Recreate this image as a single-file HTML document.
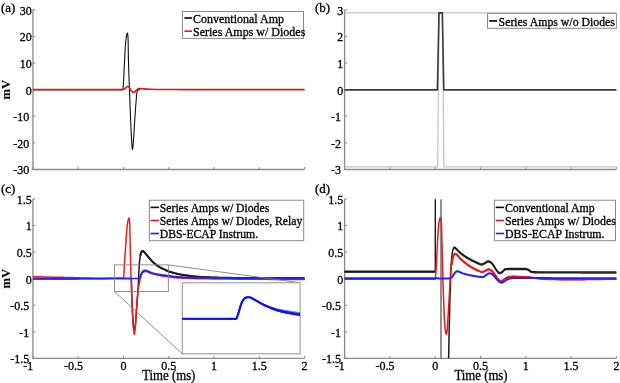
<!DOCTYPE html>
<html><head><meta charset="utf-8"><title>figure</title>
<style>html,body{margin:0;padding:0;background:#fff;overflow:hidden}svg{display:block;filter:blur(0.35px);font-family:"Liberation Serif",serif}text{stroke:#000;stroke-width:0.3px;paint-order:stroke}</style>
</head><body>
<svg width="620" height="383" viewBox="0 0 620 383" font-family="Liberation Serif" >
<rect width="620" height="383" fill="#fff"/>
<path d="M32.95,9.70 V169.50 H304.60" fill="none" stroke="#8a8a8a" stroke-width="1.3"/>
<path d="M32.95,169.50 v-2.5 M78.23,169.50 v-2.5 M123.50,169.50 v-2.5 M168.78,169.50 v-2.5 M214.05,169.50 v-2.5 M259.33,169.50 v-2.5 M304.60,169.50 v-2.5 M32.95,9.70 h2.5 M32.95,36.33 h2.5 M32.95,62.97 h2.5 M32.95,89.60 h2.5 M32.95,116.23 h2.5 M32.95,142.87 h2.5 M32.95,169.50 h2.5" fill="none" stroke="#8a8a8a" stroke-width="1"/>
<path d="M32.95,89.60 L122.60,89.60 L122.60,89.60 C122.72,89.00 123.07,88.93 123.30,86.00 C123.53,83.07 123.77,76.67 124.00,72.00 C124.23,67.33 124.43,62.83 124.70,58.00 C124.97,53.17 125.30,46.67 125.60,43.00 C125.90,39.33 126.17,37.63 126.50,36.00 C126.83,34.37 127.33,32.53 127.60,33.20 C127.87,33.87 127.97,35.87 128.10,40.00 C128.23,44.13 128.25,51.67 128.40,58.00 C128.55,64.33 128.82,72.73 129.00,78.00 C129.18,83.27 129.28,83.93 129.50,89.60 C129.72,95.27 130.00,104.43 130.30,112.00 C130.60,119.57 130.95,128.77 131.30,135.00 C131.65,141.23 132.03,148.57 132.40,149.40 C132.77,150.23 133.15,144.23 133.50,140.00 C133.85,135.77 134.12,129.83 134.50,124.00 C134.88,118.17 135.38,110.33 135.80,105.00 C136.22,99.67 136.55,94.53 137.00,92.00 C137.45,89.47 138.00,90.20 138.50,89.80 C139.00,89.40 139.75,89.63 140.00,89.60" fill="none" stroke="#111" stroke-width="1.1"/>
<path d="M32.95,89.6 L122.8,89.6 L122.80,89.60 C123.08,89.53 123.92,89.60 124.50,89.20 C125.08,88.80 125.73,87.65 126.30,87.20 C126.87,86.75 127.37,86.40 127.90,86.50 C128.43,86.60 128.95,87.08 129.50,87.80 C130.05,88.52 130.48,90.03 131.20,90.80 C131.92,91.57 133.00,92.43 133.80,92.40 C134.60,92.37 135.22,91.22 136.00,90.60 C136.78,89.98 137.50,89.02 138.50,88.70 C139.50,88.38 140.08,88.62 142.00,88.70 C143.92,88.78 146.17,89.07 150.00,89.20 C153.83,89.33 159.17,89.43 165.00,89.50 C170.83,89.57 181.67,89.58 185.00,89.60 L304.60,89.6" fill="none" stroke="#d41a1a" stroke-width="1.6"/>
<rect x="182.40" y="11.50" width="121.10" height="26.90" fill="#fff" stroke="#8a8a8a" stroke-width="1"/>
<path d="M184.40,18.00 H192.00" stroke="#000" stroke-width="1.6"/>
<text x="193.00" y="22.60" font-size="12.0" text-anchor="start" font-weight="normal" >Conventional Amp</text>
<path d="M184.40,31.20 H192.00" stroke="#e8141c" stroke-width="1.6"/>
<text x="193.00" y="35.80" font-size="12.0" text-anchor="start" font-weight="normal" >Series Amps w/ Diodes</text>
<path d="M344.60,9.70 V169.50 H616.40" fill="none" stroke="#8a8a8a" stroke-width="1.3"/>
<path d="M344.60,169.50 v-2.5 M389.90,169.50 v-2.5 M435.20,169.50 v-2.5 M480.50,169.50 v-2.5 M525.80,169.50 v-2.5 M571.10,169.50 v-2.5 M616.40,169.50 v-2.5 M344.60,9.70 h2.5 M344.60,36.33 h2.5 M344.60,62.97 h2.5 M344.60,89.60 h2.5 M344.60,116.23 h2.5 M344.60,142.87 h2.5 M344.60,169.50 h2.5" fill="none" stroke="#8a8a8a" stroke-width="1"/>
<path d="M344.60,12.9 H616.40 M344.60,166.8 H437.7 L439.0,12.9 M442.5,12.9 L443.9,166.8 H616.40" fill="none" stroke="#c2c2c2" stroke-width="1.25"/>
<path d="M344.60,89.9 H437.4 L439.0,12.9 H442.3 L443.8,89.9 H616.40" fill="none" stroke="#3a3a3a" stroke-width="1.6" stroke-linejoin="round"/>
<rect x="487.50" y="13.40" width="128.90" height="14.90" fill="#fff" stroke="#8a8a8a" stroke-width="1"/>
<path d="M489.20,20.90 H497.20" stroke="#000" stroke-width="1.6"/>
<text x="498.60" y="25.50" font-size="11.8" text-anchor="start" font-weight="normal" >Series Amps w/o Diodes</text>
<path d="M32.95,198.90 V358.35 H304.60" fill="none" stroke="#8a8a8a" stroke-width="1.3"/>
<path d="M32.95,358.35 v-2.5 M78.23,358.35 v-2.5 M123.50,358.35 v-2.5 M168.78,358.35 v-2.5 M214.05,358.35 v-2.5 M259.33,358.35 v-2.5 M304.60,358.35 v-2.5 M32.95,198.90 h2.5 M32.95,225.48 h2.5 M32.95,252.05 h2.5 M32.95,278.62 h2.5 M32.95,305.20 h2.5 M32.95,331.78 h2.5 M32.95,358.35 h2.5" fill="none" stroke="#8a8a8a" stroke-width="1"/>
<path d="M32.95,279.10 L36.30,279.09 L39.59,279.08 L42.86,279.07 L46.15,279.06 L49.47,279.05 L52.87,279.03 L56.37,279.02 L60.00,279.00 L64.72,278.97 L69.77,278.94 L75.03,278.90 L80.37,278.86 L85.66,278.82 L90.78,278.78 L95.60,278.74 L100.00,278.70 L102.89,278.67 L105.69,278.64 L108.40,278.61 L110.99,278.58 L113.46,278.56 L115.79,278.53 L117.98,278.51 L120.00,278.50 L121.20,278.49 L122.36,278.49 L123.47,278.48 L124.52,278.48 L125.50,278.48 L126.41,278.48 L127.25,278.49 L128.00,278.50 L128.38,278.50 L128.74,278.49 L129.07,278.47 L129.39,278.46 L129.68,278.45 L129.95,278.47 L130.19,278.52 L130.40,278.60 L130.53,278.67 L130.63,278.74 L130.73,278.83 L130.81,278.92 L130.89,279.03 L130.96,279.16 L131.03,279.31 L131.10,279.50 L131.34,280.57 L131.49,282.16 L131.59,284.15 L131.64,286.43 L131.67,288.87 L131.69,291.36 L131.73,293.77 L131.80,296.00 L131.89,298.19 L131.99,300.42 L132.09,302.67 L132.18,304.92 L132.28,307.16 L132.39,309.34 L132.49,311.47 L132.60,313.50 L132.69,315.14 L132.78,316.77 L132.86,318.37 L132.95,319.93 L133.05,321.44 L133.15,322.88 L133.27,324.24 L133.40,325.50 L133.50,326.37 L133.60,327.28 L133.71,328.20 L133.83,329.07 L133.94,329.84 L134.06,330.45 L134.18,330.85 L134.30,331.00 L134.41,330.89 L134.52,330.56 L134.64,330.08 L134.76,329.46 L134.88,328.75 L134.99,328.00 L135.10,327.23 L135.20,326.50 L135.35,325.24 L135.49,323.84 L135.62,322.31 L135.74,320.69 L135.85,319.02 L135.96,317.32 L136.08,315.64 L136.20,314.00 L136.34,312.29 L136.48,310.57 L136.62,308.83 L136.76,307.08 L136.90,305.32 L137.03,303.55 L137.17,301.78 L137.30,300.00 L137.43,298.14 L137.57,296.26 L137.70,294.37 L137.83,292.47 L137.96,290.57 L138.08,288.69 L138.19,286.83 L138.30,285.00 L138.39,283.32 L138.47,281.64 L138.54,279.97 L138.61,278.31 L138.68,276.69 L138.75,275.08 L138.82,273.52 L138.90,272.00 L138.97,270.73 L139.04,269.48 L139.10,268.25 L139.17,267.04 L139.24,265.86 L139.32,264.71 L139.41,263.59 L139.50,262.50 L139.58,261.61 L139.67,260.74 L139.75,259.89 L139.85,259.05 L139.95,258.24 L140.05,257.46 L140.17,256.71 L140.30,256.00 L140.40,255.47 L140.51,254.95 L140.62,254.44 L140.73,253.95 L140.85,253.49 L140.99,253.05 L141.14,252.65 L141.30,252.30 L141.42,252.08 L141.54,251.86 L141.67,251.65 L141.81,251.46 L141.95,251.29 L142.09,251.16 L142.24,251.06 L142.40,251.00 L142.56,250.99 L142.73,251.03 L142.90,251.10 L143.08,251.19 L143.27,251.31 L143.45,251.44 L143.63,251.57 L143.80,251.70 L144.00,251.86 L144.19,252.03 L144.38,252.22 L144.56,252.43 L144.75,252.64 L144.95,252.88 L145.16,253.13 L145.40,253.40 L145.87,253.95 L146.40,254.58 L146.98,255.29 L147.59,256.04 L148.22,256.80 L148.85,257.57 L149.48,258.31 L150.10,259.00 L150.67,259.63 L151.25,260.25 L151.83,260.86 L152.41,261.46 L153.00,262.05 L153.59,262.62 L154.19,263.17 L154.80,263.70 L155.37,264.17 L155.95,264.62 L156.53,265.05 L157.12,265.47 L157.71,265.87 L158.30,266.26 L158.90,266.63 L159.50,267.00 L160.08,267.34 L160.66,267.66 L161.25,267.97 L161.83,268.27 L162.42,268.56 L163.02,268.84 L163.61,269.12 L164.20,269.40 L164.78,269.67 L165.34,269.93 L165.91,270.18 L166.48,270.43 L167.06,270.68 L167.65,270.92 L168.26,271.16 L168.90,271.40 L169.71,271.69 L170.54,271.98 L171.41,272.27 L172.29,272.56 L173.20,272.84 L174.12,273.11 L175.06,273.36 L176.00,273.60 L177.07,273.85 L178.18,274.07 L179.31,274.28 L180.46,274.48 L181.61,274.67 L182.76,274.85 L183.89,275.03 L185.00,275.20 L186.01,275.36 L187.00,275.51 L187.98,275.66 L188.95,275.80 L189.92,275.93 L190.92,276.06 L191.94,276.18 L193.00,276.30 L194.28,276.43 L195.58,276.54 L196.90,276.65 L198.26,276.75 L199.65,276.84 L201.06,276.93 L202.51,277.02 L204.00,277.10 L205.82,277.20 L207.67,277.28 L209.56,277.37 L211.50,277.44 L213.50,277.51 L215.58,277.58 L217.74,277.64 L220.00,277.70 L223.24,277.77 L226.63,277.84 L230.17,277.89 L233.86,277.94 L237.69,277.98 L241.65,278.02 L245.76,278.06 L250.00,278.10 L256.05,278.15 L262.51,278.19 L269.29,278.23 L276.29,278.27 L283.41,278.30 L290.57,278.33 L297.66,278.36 L304.60,278.40" fill="none" stroke="#1a1a1a" stroke-width="1.5" stroke-linejoin="round"/>
<path d="M140.30,256.00 L140.42,255.52 L140.53,255.03 L140.64,254.52 L140.75,254.02 L140.87,253.53 L141.00,253.08 L141.14,252.66 L141.30,252.30 L141.42,252.08 L141.54,251.86 L141.67,251.65 L141.81,251.46 L141.95,251.29 L142.09,251.16 L142.24,251.06 L142.40,251.00 L142.56,250.99 L142.73,251.03 L142.90,251.10 L143.08,251.19 L143.27,251.31 L143.45,251.44 L143.63,251.57 L143.80,251.70 L144.00,251.86 L144.19,252.03 L144.38,252.22 L144.56,252.43 L144.75,252.64 L144.95,252.88 L145.16,253.13 L145.40,253.40 L145.87,253.95 L146.40,254.58 L146.98,255.29 L147.59,256.04 L148.22,256.80 L148.85,257.57 L149.48,258.31 L150.10,259.00 L150.67,259.63 L151.25,260.25 L151.83,260.86 L152.41,261.46 L153.00,262.05 L153.59,262.62 L154.19,263.17 L154.80,263.70 L155.37,264.17 L155.95,264.62 L156.53,265.05 L157.12,265.47 L157.71,265.87 L158.30,266.26 L158.90,266.63 L159.50,267.00 L160.08,267.34 L160.66,267.66 L161.25,267.97 L161.83,268.27 L162.42,268.56 L163.02,268.84 L163.61,269.12 L164.20,269.40 L164.78,269.67 L165.34,269.93 L165.91,270.18 L166.48,270.43 L167.06,270.68 L167.65,270.92 L168.26,271.16 L168.90,271.40 L169.71,271.69 L170.54,271.98 L171.41,272.27 L172.29,272.56 L173.20,272.84 L174.12,273.11 L175.06,273.36 L176.00,273.60 L177.07,273.85 L178.18,274.07 L179.31,274.28 L180.46,274.48 L181.61,274.67 L182.76,274.85 L183.89,275.03 L185.00,275.20 L186.01,275.36 L187.00,275.51 L187.98,275.66 L188.95,275.80 L189.92,275.93 L190.92,276.06 L191.94,276.18 L193.00,276.30 L194.28,276.43 L195.58,276.54 L196.90,276.65 L198.26,276.75 L199.65,276.84 L201.06,276.93 L202.51,277.02 L204.00,277.10 L205.82,277.20 L207.67,277.28 L209.56,277.37 L211.50,277.44 L213.50,277.51 L215.58,277.58 L217.74,277.64 L220.00,277.70 L223.24,277.77 L226.63,277.84 L230.17,277.89 L233.86,277.94 L237.69,277.98 L241.65,278.02 L245.76,278.06 L250.00,278.10 L256.05,278.15 L262.51,278.19 L269.29,278.23 L276.29,278.27 L283.41,278.30 L290.57,278.33 L297.66,278.36 L304.60,278.40" fill="none" stroke="#1a1a1a" stroke-width="2.1" stroke-linejoin="round"/>
<path d="M32.95,276.60 L35.07,276.66 L37.18,276.73 L39.28,276.79 L41.39,276.86 L43.51,276.92 L45.64,276.98 L47.80,277.04 L50.00,277.10 L52.42,277.16 L54.89,277.21 L57.38,277.25 L59.90,277.30 L62.43,277.34 L64.96,277.39 L67.49,277.44 L70.00,277.50 L72.50,277.57 L75.00,277.65 L77.50,277.73 L80.00,277.81 L82.50,277.90 L85.00,277.97 L87.50,278.04 L90.00,278.10 L92.54,278.15 L95.13,278.18 L97.74,278.21 L100.34,278.24 L102.90,278.26 L105.39,278.28 L107.76,278.29 L110.00,278.30 L111.66,278.31 L113.35,278.32 L115.02,278.33 L116.62,278.33 L118.12,278.34 L119.46,278.33 L120.60,278.32 L121.50,278.30 L121.76,278.30 L121.99,278.30 L122.20,278.31 L122.39,278.32 L122.56,278.32 L122.72,278.30 L122.86,278.27 L123.00,278.20 L123.11,278.12 L123.20,278.04 L123.28,277.94 L123.35,277.83 L123.42,277.70 L123.48,277.55 L123.54,277.39 L123.60,277.20 L123.75,276.51 L123.86,275.58 L123.94,274.48 L124.00,273.24 L124.04,271.92 L124.08,270.58 L124.13,269.25 L124.20,268.00 L124.28,266.68 L124.37,265.34 L124.45,263.99 L124.54,262.62 L124.63,261.24 L124.72,259.84 L124.81,258.43 L124.90,257.00 L125.01,255.43 L125.11,253.84 L125.22,252.23 L125.34,250.60 L125.45,248.96 L125.57,247.31 L125.68,245.66 L125.80,244.00 L125.92,242.25 L126.04,240.46 L126.15,238.64 L126.27,236.83 L126.39,235.03 L126.52,233.28 L126.65,231.60 L126.80,230.00 L126.92,228.77 L127.04,227.55 L127.16,226.35 L127.28,225.19 L127.41,224.08 L127.56,223.04 L127.72,222.07 L127.90,221.20 L128.03,220.67 L128.16,220.13 L128.31,219.59 L128.46,219.08 L128.61,218.65 L128.75,218.30 L128.89,218.07 L129.00,218.00 L129.11,218.11 L129.20,218.39 L129.28,218.82 L129.36,219.37 L129.42,219.99 L129.48,220.65 L129.54,221.34 L129.60,222.00 L129.69,223.25 L129.76,224.66 L129.82,226.20 L129.86,227.86 L129.89,229.59 L129.93,231.38 L129.96,233.19 L130.00,235.00 L130.05,237.32 L130.11,239.78 L130.15,242.34 L130.20,244.95 L130.25,247.57 L130.30,250.15 L130.35,252.64 L130.40,255.00 L130.45,256.89 L130.50,258.75 L130.55,260.57 L130.60,262.35 L130.65,264.09 L130.70,265.78 L130.75,267.41 L130.80,269.00 L130.84,270.20 L130.87,271.31 L130.91,272.36 L130.94,273.40 L130.98,274.45 L131.02,275.55 L131.06,276.72 L131.10,278.00 L131.17,280.13 L131.25,282.47 L131.33,284.97 L131.42,287.57 L131.51,290.23 L131.61,292.89 L131.70,295.50 L131.80,298.00 L131.89,300.32 L131.99,302.64 L132.08,304.96 L132.18,307.26 L132.28,309.53 L132.38,311.75 L132.49,313.91 L132.60,316.00 L132.69,317.71 L132.78,319.40 L132.86,321.07 L132.95,322.70 L133.05,324.27 L133.15,325.77 L133.27,327.19 L133.40,328.50 L133.50,329.40 L133.61,330.35 L133.72,331.30 L133.83,332.20 L133.95,333.00 L134.07,333.63 L134.19,334.05 L134.30,334.20 L134.42,334.04 L134.53,333.59 L134.65,332.90 L134.76,332.05 L134.88,331.07 L134.99,330.03 L135.10,328.99 L135.20,328.00 L135.35,326.43 L135.48,324.69 L135.61,322.81 L135.73,320.84 L135.85,318.83 L135.96,316.83 L136.08,314.87 L136.20,313.00 L136.31,311.32 L136.42,309.66 L136.52,308.01 L136.63,306.37 L136.73,304.75 L136.85,303.15 L136.97,301.57 L137.10,300.00 L137.23,298.56 L137.37,297.12 L137.51,295.68 L137.65,294.26 L137.81,292.87 L137.96,291.52 L138.13,290.23 L138.30,289.00 L138.44,288.10 L138.59,287.24 L138.74,286.40 L138.89,285.60 L139.05,284.81 L139.20,284.03 L139.35,283.27 L139.50,282.50 L139.63,281.81 L139.75,281.13 L139.87,280.45 L139.99,279.78 L140.11,279.12 L140.23,278.49 L140.36,277.88 L140.50,277.30 L140.61,276.86 L140.72,276.44 L140.83,276.03 L140.94,275.64 L141.06,275.25 L141.19,274.89 L141.34,274.54 L141.50,274.20 L141.65,273.92 L141.81,273.65 L141.98,273.39 L142.16,273.14 L142.35,272.90 L142.55,272.68 L142.77,272.48 L143.00,272.30 L143.27,272.13 L143.56,271.98 L143.88,271.85 L144.21,271.74 L144.54,271.65 L144.87,271.58 L145.19,271.53 L145.50,271.50 L145.76,271.50 L146.01,271.51 L146.26,271.55 L146.50,271.60 L146.75,271.66 L146.99,271.74 L147.24,271.82 L147.50,271.90 L147.80,272.01 L148.09,272.14 L148.38,272.29 L148.67,272.44 L148.99,272.61 L149.32,272.77 L149.69,272.94 L150.10,273.10 L150.99,273.40 L152.03,273.72 L153.18,274.06 L154.42,274.39 L155.70,274.73 L157.00,275.04 L158.28,275.34 L159.50,275.60 L160.68,275.83 L161.87,276.04 L163.07,276.23 L164.27,276.40 L165.47,276.56 L166.64,276.71 L167.79,276.86 L168.90,277.00 L169.82,277.12 L170.69,277.23 L171.53,277.34 L172.36,277.44 L173.20,277.54 L174.08,277.63 L175.00,277.71 L176.00,277.80 L177.49,277.91 L179.04,278.02 L180.67,278.11 L182.37,278.20 L184.16,278.28 L186.02,278.36 L187.96,278.43 L190.00,278.50 L193.18,278.59 L196.60,278.67 L200.23,278.74 L204.02,278.80 L207.94,278.86 L211.93,278.91 L215.97,278.95 L220.00,279.00 L224.71,279.05 L229.54,279.10 L234.48,279.13 L239.50,279.17 L244.59,279.20 L249.71,279.23 L254.86,279.27 L260.00,279.30 L265.46,279.34 L270.98,279.38 L276.55,279.41 L282.15,279.45 L287.77,279.49 L293.39,279.53 L299.01,279.56 L304.60,279.60" fill="none" stroke="#f01c24" stroke-width="1.5" stroke-linejoin="round"/>
<path d="M32.95,278.3 L100,278.4 L138.6,278.5" fill="none" stroke="#2020ff" stroke-width="1.5"/>
<path d="M138.50,278.55 L138.65,278.55 L138.81,278.55 L138.97,278.56 L139.13,278.57 L139.29,278.57 L139.43,278.55 L139.57,278.52 L139.70,278.45 L139.84,278.33 L139.95,278.17 L140.06,277.98 L140.15,277.77 L140.24,277.54 L140.32,277.29 L140.41,277.05 L140.50,276.80 L140.63,276.45 L140.75,276.06 L140.86,275.65 L140.98,275.22 L141.10,274.79 L141.22,274.37 L141.35,273.97 L141.50,273.60 L141.63,273.30 L141.77,273.01 L141.91,272.72 L142.05,272.45 L142.20,272.18 L142.36,271.93 L142.53,271.71 L142.70,271.50 L142.85,271.35 L143.00,271.21 L143.16,271.08 L143.33,270.96 L143.49,270.85 L143.66,270.76 L143.83,270.67 L144.00,270.60 L144.15,270.54 L144.29,270.50 L144.44,270.46 L144.58,270.43 L144.73,270.41 L144.88,270.40 L145.04,270.40 L145.20,270.40 L145.41,270.42 L145.62,270.46 L145.83,270.51 L146.05,270.57 L146.28,270.65 L146.51,270.73 L146.75,270.81 L147.00,270.90 L147.35,271.03 L147.71,271.18 L148.09,271.34 L148.48,271.51 L148.87,271.69 L149.28,271.87 L149.69,272.04 L150.10,272.20 L150.56,272.37 L151.02,272.54 L151.49,272.71 L151.97,272.88 L152.46,273.04 L152.96,273.20 L153.47,273.35 L154.00,273.50 L154.63,273.66 L155.27,273.81 L155.92,273.95 L156.59,274.08 L157.28,274.21 L158.00,274.34 L158.73,274.47 L159.50,274.60 L160.56,274.77 L161.70,274.94 L162.90,275.11 L164.12,275.28 L165.36,275.44 L166.58,275.60 L167.77,275.75 L168.90,275.90 L169.82,276.02 L170.69,276.15 L171.53,276.27 L172.36,276.38 L173.20,276.49 L174.08,276.60 L175.00,276.70 L176.00,276.80 L177.49,276.93 L179.04,277.05 L180.67,277.16 L182.37,277.26 L184.15,277.35 L186.02,277.44 L187.96,277.52 L190.00,277.60 L193.18,277.69 L196.60,277.77 L200.23,277.82 L204.02,277.86 L207.94,277.89 L211.93,277.92 L215.97,277.96 L220.00,278.00 L224.71,278.05 L229.55,278.11 L234.48,278.16 L239.50,278.22 L244.59,278.27 L249.71,278.32 L254.86,278.36 L260.00,278.40 L265.46,278.44 L270.98,278.47 L276.55,278.49 L282.15,278.51 L287.77,278.54 L293.39,278.56 L299.01,278.58 L304.60,278.60" fill="none" stroke="#2020ff" stroke-width="1.9" stroke-linejoin="round"/>
<path d="M114.5,264.9 H168.4 V291.5 H114.5 Z M168.4,264.9 L299.8,282.7 M114.5,291.5 L182.3,353.8" fill="none" stroke="#808080" stroke-width="0.9"/>
<rect x="182.3" y="282.8" width="117.8" height="71.0" fill="#fff" stroke="#909090" stroke-width="1"/>
<path d="M182.30,318.80 L187.13,318.80 L192.14,318.80 L197.21,318.80 L202.25,318.80 L207.16,318.80 L211.82,318.80 L216.13,318.80 L220.00,318.80 L222.23,318.80 L224.44,318.81 L226.56,318.82 L228.56,318.83 L230.40,318.83 L232.03,318.83 L233.41,318.82 L234.50,318.80 L234.80,318.80 L235.06,318.82 L235.29,318.84 L235.50,318.85 L235.68,318.86 L235.86,318.84 L236.03,318.79 L236.20,318.70 L236.40,318.53 L236.58,318.30 L236.73,318.02 L236.87,317.71 L237.00,317.37 L237.13,317.02 L237.26,316.66 L237.40,316.30 L237.58,315.83 L237.76,315.33 L237.94,314.80 L238.11,314.26 L238.28,313.70 L238.46,313.14 L238.63,312.57 L238.80,312.00 L238.99,311.37 L239.17,310.72 L239.36,310.06 L239.54,309.39 L239.73,308.73 L239.91,308.07 L240.11,307.42 L240.30,306.80 L240.48,306.25 L240.65,305.70 L240.83,305.15 L241.01,304.62 L241.20,304.09 L241.39,303.58 L241.59,303.08 L241.80,302.60 L241.99,302.19 L242.18,301.78 L242.38,301.38 L242.59,300.99 L242.80,300.62 L243.02,300.26 L243.25,299.92 L243.50,299.60 L243.73,299.33 L243.97,299.06 L244.22,298.81 L244.48,298.57 L244.74,298.35 L245.02,298.15 L245.31,297.96 L245.60,297.80 L245.91,297.66 L246.23,297.54 L246.57,297.44 L246.91,297.35 L247.26,297.29 L247.61,297.24 L247.96,297.21 L248.30,297.20 L248.63,297.21 L248.97,297.24 L249.30,297.28 L249.63,297.35 L249.96,297.43 L250.30,297.52 L250.64,297.63 L251.00,297.75 L251.47,297.93 L251.95,298.15 L252.45,298.39 L252.96,298.65 L253.47,298.93 L253.98,299.21 L254.49,299.49 L255.00,299.75 L255.51,300.01 L256.02,300.27 L256.53,300.53 L257.04,300.79 L257.55,301.06 L258.06,301.32 L258.58,301.58 L259.10,301.85 L259.64,302.12 L260.18,302.40 L260.73,302.67 L261.27,302.95 L261.82,303.23 L262.38,303.50 L262.94,303.77 L263.50,304.02 L264.08,304.28 L264.64,304.53 L265.21,304.77 L265.78,305.01 L266.37,305.25 L266.98,305.49 L267.62,305.73 L268.30,305.98 L269.29,306.35 L270.36,306.73 L271.49,307.12 L272.65,307.52 L273.84,307.91 L275.04,308.28 L276.23,308.62 L277.40,308.93 L278.55,309.20 L279.72,309.44 L280.91,309.66 L282.09,309.86 L283.26,310.04 L284.41,310.22 L285.53,310.39 L286.60,310.57 L287.45,310.71 L288.27,310.85 L289.07,310.98 L289.85,311.11 L290.63,311.23 L291.41,311.35 L292.19,311.48 L293.00,311.60 L293.86,311.73 L294.73,311.86 L295.60,311.98 L296.48,312.10 L297.36,312.23 L298.24,312.35 L299.12,312.48 L300.00,312.60" fill="none" stroke="#1010f0" stroke-width="1.0" opacity="0.6" stroke-linejoin="round"/>
<path d="M182.30,318.80 L187.13,318.80 L192.14,318.80 L197.21,318.80 L202.25,318.80 L207.16,318.80 L211.82,318.80 L216.13,318.80 L220.00,318.80 L222.23,318.80 L224.44,318.81 L226.56,318.82 L228.56,318.83 L230.40,318.83 L232.03,318.83 L233.41,318.82 L234.50,318.80 L234.80,318.80 L235.06,318.82 L235.29,318.84 L235.50,318.85 L235.68,318.86 L235.86,318.84 L236.03,318.79 L236.20,318.70 L236.40,318.53 L236.58,318.30 L236.73,318.02 L236.87,317.71 L237.00,317.37 L237.13,317.02 L237.26,316.66 L237.40,316.30 L237.58,315.83 L237.76,315.33 L237.94,314.80 L238.11,314.26 L238.28,313.70 L238.46,313.14 L238.63,312.57 L238.80,312.00 L238.99,311.37 L239.17,310.72 L239.36,310.06 L239.54,309.39 L239.73,308.73 L239.91,308.07 L240.11,307.42 L240.30,306.80 L240.48,306.25 L240.65,305.70 L240.83,305.15 L241.01,304.62 L241.20,304.09 L241.39,303.58 L241.59,303.08 L241.80,302.60 L241.99,302.19 L242.18,301.78 L242.38,301.38 L242.59,300.99 L242.80,300.62 L243.02,300.26 L243.25,299.92 L243.50,299.60 L243.73,299.33 L243.97,299.06 L244.22,298.81 L244.48,298.57 L244.74,298.35 L245.02,298.15 L245.31,297.96 L245.60,297.80 L245.91,297.66 L246.23,297.54 L246.57,297.44 L246.91,297.35 L247.26,297.29 L247.61,297.24 L247.96,297.21 L248.30,297.20 L248.63,297.21 L248.97,297.24 L249.30,297.29 L249.63,297.36 L249.96,297.44 L250.30,297.54 L250.64,297.65 L251.00,297.78 L251.47,297.96 L251.96,298.19 L252.45,298.45 L252.96,298.73 L253.47,299.02 L253.98,299.31 L254.49,299.60 L255.00,299.88 L255.51,300.15 L256.02,300.42 L256.53,300.69 L257.04,300.97 L257.55,301.24 L258.06,301.52 L258.58,301.80 L259.10,302.07 L259.64,302.36 L260.18,302.65 L260.73,302.94 L261.27,303.23 L261.82,303.52 L262.38,303.81 L262.94,304.09 L263.50,304.36 L264.08,304.63 L264.64,304.90 L265.21,305.15 L265.78,305.41 L266.37,305.66 L266.98,305.91 L267.62,306.17 L268.30,306.44 L269.29,306.83 L270.36,307.24 L271.48,307.66 L272.65,308.08 L273.84,308.50 L275.04,308.90 L276.23,309.28 L277.40,309.62 L278.55,309.91 L279.72,310.18 L280.91,310.43 L282.09,310.66 L283.26,310.88 L284.41,311.09 L285.53,311.29 L286.60,311.48 L287.45,311.64 L288.27,311.80 L289.07,311.94 L289.85,312.08 L290.63,312.21 L291.41,312.34 L292.19,312.47 L293.00,312.60 L293.86,312.73 L294.73,312.86 L295.60,312.99 L296.48,313.11 L297.36,313.23 L298.24,313.35 L299.12,313.48 L300.00,313.60" fill="none" stroke="#1010f0" stroke-width="1.2" opacity="0.8" stroke-linejoin="round"/>
<path d="M182.30,318.80 L187.13,318.80 L192.14,318.80 L197.21,318.80 L202.25,318.80 L207.16,318.80 L211.82,318.80 L216.13,318.80 L220.00,318.80 L222.23,318.80 L224.44,318.81 L226.56,318.82 L228.56,318.83 L230.40,318.83 L232.03,318.83 L233.41,318.82 L234.50,318.80 L234.80,318.80 L235.06,318.82 L235.29,318.84 L235.50,318.85 L235.68,318.86 L235.86,318.84 L236.03,318.79 L236.20,318.70 L236.40,318.53 L236.58,318.30 L236.73,318.02 L236.87,317.71 L237.00,317.37 L237.13,317.02 L237.26,316.66 L237.40,316.30 L237.58,315.83 L237.76,315.33 L237.94,314.80 L238.11,314.26 L238.28,313.70 L238.46,313.14 L238.63,312.57 L238.80,312.00 L238.99,311.37 L239.17,310.72 L239.36,310.06 L239.54,309.39 L239.73,308.73 L239.91,308.07 L240.11,307.42 L240.30,306.80 L240.48,306.25 L240.65,305.70 L240.83,305.15 L241.01,304.62 L241.20,304.09 L241.39,303.58 L241.59,303.08 L241.80,302.60 L241.99,302.19 L242.18,301.78 L242.38,301.38 L242.59,300.99 L242.80,300.62 L243.02,300.26 L243.25,299.92 L243.50,299.60 L243.73,299.33 L243.97,299.06 L244.22,298.81 L244.48,298.57 L244.74,298.35 L245.02,298.15 L245.31,297.96 L245.60,297.80 L245.91,297.66 L246.23,297.54 L246.57,297.43 L246.91,297.35 L247.26,297.28 L247.61,297.24 L247.96,297.21 L248.30,297.20 L248.64,297.21 L248.97,297.24 L249.30,297.30 L249.63,297.37 L249.96,297.46 L250.30,297.56 L250.65,297.68 L251.00,297.81 L251.47,298.01 L251.96,298.26 L252.46,298.53 L252.96,298.83 L253.47,299.14 L253.98,299.46 L254.49,299.77 L255.00,300.06 L255.51,300.35 L256.02,300.64 L256.53,300.94 L257.04,301.23 L257.55,301.53 L258.06,301.82 L258.58,302.12 L259.10,302.41 L259.64,302.72 L260.18,303.03 L260.73,303.34 L261.27,303.66 L261.82,303.97 L262.38,304.27 L262.94,304.57 L263.50,304.87 L264.08,305.16 L264.64,305.45 L265.21,305.72 L265.78,306.00 L266.37,306.27 L266.98,306.55 L267.62,306.83 L268.30,307.13 L269.29,307.55 L270.36,308.00 L271.48,308.46 L272.65,308.93 L273.84,309.40 L275.04,309.84 L276.23,310.26 L277.40,310.64 L278.55,310.98 L279.72,311.30 L280.90,311.60 L282.09,311.88 L283.26,312.14 L284.41,312.39 L285.53,312.63 L286.60,312.86 L287.45,313.04 L288.27,313.21 L289.07,313.38 L289.85,313.53 L290.63,313.68 L291.40,313.82 L292.19,313.96 L293.00,314.10 L293.86,314.24 L294.73,314.37 L295.60,314.50 L296.48,314.62 L297.36,314.74 L298.24,314.86 L299.12,314.98 L300.00,315.10" fill="none" stroke="#1010f0" stroke-width="1.6" opacity="1" stroke-linejoin="round"/>
<path d="M182.30,318.80 L187.13,318.80 L192.14,318.80 L197.21,318.80 L202.25,318.80 L207.16,318.80 L211.82,318.80 L216.13,318.80 L220.00,318.80 L222.23,318.80 L224.44,318.81 L226.56,318.82 L228.56,318.83 L230.40,318.83 L232.03,318.83 L233.41,318.82 L234.50,318.80 L234.80,318.80 L235.06,318.82 L235.29,318.84 L235.50,318.85 L235.68,318.86 L235.86,318.84 L236.03,318.79 L236.20,318.70 L236.40,318.53 L236.58,318.30 L236.73,318.02 L236.87,317.71 L237.00,317.37 L237.13,317.02 L237.26,316.66 L237.40,316.30 L237.58,315.83 L237.76,315.33 L237.94,314.80 L238.11,314.26 L238.28,313.70 L238.46,313.14 L238.63,312.57 L238.80,312.00 L238.99,311.37 L239.17,310.72 L239.36,310.06 L239.54,309.39 L239.73,308.73 L239.91,308.07 L240.11,307.42 L240.30,306.80 L240.48,306.25 L240.65,305.70 L240.83,305.15 L241.01,304.62 L241.20,304.09 L241.39,303.58 L241.59,303.08 L241.80,302.60 L241.99,302.19 L242.18,301.78 L242.38,301.38 L242.59,300.99 L242.80,300.62 L243.02,300.26 L243.25,299.92 L243.50,299.60 L243.73,299.33 L243.97,299.06 L244.22,298.81 L244.48,298.57 L244.74,298.35 L245.02,298.15 L245.31,297.96 L245.60,297.80 L245.91,297.66 L246.23,297.54 L246.57,297.43 L246.91,297.35 L247.26,297.28 L247.61,297.24 L247.96,297.21 L248.30,297.20 L248.64,297.21 L248.97,297.24 L249.30,297.29 L249.63,297.36 L249.96,297.45 L250.30,297.55 L250.65,297.67 L251.00,297.80 L251.47,298.00 L251.96,298.24 L252.45,298.50 L252.96,298.80 L253.47,299.10 L253.98,299.41 L254.49,299.71 L255.00,300.00 L255.51,300.28 L256.02,300.57 L256.53,300.86 L257.04,301.14 L257.55,301.43 L258.06,301.72 L258.58,302.01 L259.10,302.30 L259.64,302.60 L260.18,302.90 L260.73,303.21 L261.27,303.51 L261.82,303.82 L262.38,304.12 L262.94,304.41 L263.50,304.70 L264.08,304.99 L264.64,305.26 L265.21,305.53 L265.78,305.80 L266.37,306.07 L266.98,306.34 L267.62,306.61 L268.30,306.90 L269.29,307.31 L270.36,307.75 L271.48,308.20 L272.65,308.65 L273.84,309.10 L275.04,309.53 L276.23,309.93 L277.40,310.30 L278.55,310.63 L279.72,310.93 L280.90,311.21 L282.09,311.47 L283.26,311.72 L284.41,311.95 L285.53,312.18 L286.60,312.40 L287.45,312.58 L288.27,312.74 L289.07,312.90 L289.85,313.05 L290.63,313.19 L291.40,313.33 L292.19,313.46 L293.00,313.60 L293.86,313.74 L294.73,313.87 L295.60,313.99 L296.48,314.12 L297.36,314.24 L298.24,314.36 L299.12,314.48 L300.00,314.60" fill="none" stroke="#1010f0" stroke-width="2.1" opacity="1" stroke-linejoin="round"/>
<rect x="149.40" y="200.20" width="154.30" height="40.50" fill="#fff" stroke="#8a8a8a" stroke-width="1"/>
<path d="M150.60,207.40 H158.90" stroke="#000" stroke-width="1.6"/>
<text x="159.80" y="212.00" font-size="11.7" text-anchor="start" font-weight="normal" >Series Amps w/ Diodes</text>
<path d="M150.60,220.50 H158.90" stroke="#e8141c" stroke-width="1.6"/>
<text x="159.80" y="225.10" font-size="11.7" text-anchor="start" font-weight="normal" >Series Amps w/ Diodes, Relay</text>
<path d="M150.60,233.50 H158.90" stroke="#1515f5" stroke-width="1.6"/>
<text x="159.80" y="238.10" font-size="11.7" text-anchor="start" font-weight="normal" >DBS-ECAP Instrum.</text>
<path d="M344.60,198.90 V358.35 H616.40" fill="none" stroke="#8a8a8a" stroke-width="1.3"/>
<path d="M344.60,358.35 v-2.5 M389.90,358.35 v-2.5 M435.20,358.35 v-2.5 M480.50,358.35 v-2.5 M525.80,358.35 v-2.5 M571.10,358.35 v-2.5 M616.40,358.35 v-2.5 M344.60,198.90 h2.5 M344.60,225.48 h2.5 M344.60,252.05 h2.5 M344.60,278.62 h2.5 M344.60,305.20 h2.5 M344.60,331.78 h2.5 M344.60,358.35 h2.5" fill="none" stroke="#8a8a8a" stroke-width="1"/>
<path d="M344.60,271.7 H435.3 V199.2" fill="none" stroke="#1a1a1a" stroke-width="1.4"/>
<path d="M441.0,199.2 V358.35" fill="none" stroke="#555" stroke-width="1.3"/>
<path d="M344.60,271.7 H434.9" fill="none" stroke="#1a1a1a" stroke-width="2.3"/>
<path d="M448.60,358.35 L448.70,353.52 L448.80,348.65 L448.90,343.76 L448.99,338.88 L449.09,334.04 L449.19,329.26 L449.29,324.57 L449.40,320.00 L449.50,316.03 L449.59,312.10 L449.69,308.21 L449.79,304.39 L449.89,300.64 L449.99,296.99 L450.10,293.43 L450.20,290.00 L450.28,287.28 L450.36,284.63 L450.44,282.05 L450.51,279.52 L450.60,277.06 L450.69,274.65 L450.79,272.30 L450.90,270.00 L451.00,268.09 L451.11,266.20 L451.22,264.33 L451.33,262.51 L451.46,260.75 L451.59,259.06 L451.74,257.48 L451.90,256.00 L452.01,255.04 L452.12,254.12 L452.24,253.22 L452.36,252.37 L452.49,251.57 L452.63,250.82 L452.80,250.13 L453.00,249.50 L453.14,249.12 L453.28,248.74 L453.42,248.37 L453.58,248.03 L453.74,247.73 L453.91,247.48 L454.10,247.30 L454.30,247.20 L454.49,247.19 L454.68,247.24 L454.89,247.34 L455.11,247.48 L455.33,247.65 L455.55,247.83 L455.78,248.02 L456.00,248.20 L456.30,248.46 L456.60,248.75 L456.90,249.07 L457.20,249.41 L457.51,249.76 L457.83,250.11 L458.16,250.46 L458.50,250.80 L458.90,251.17 L459.32,251.55 L459.74,251.93 L460.18,252.31 L460.63,252.69 L461.08,253.07 L461.54,253.44 L462.00,253.80 L462.48,254.16 L462.96,254.52 L463.45,254.88 L463.94,255.23 L464.44,255.57 L464.95,255.92 L465.47,256.26 L466.00,256.60 L466.59,256.97 L467.20,257.35 L467.82,257.72 L468.45,258.09 L469.09,258.45 L469.73,258.81 L470.37,259.16 L471.00,259.50 L471.62,259.82 L472.24,260.14 L472.86,260.45 L473.48,260.75 L474.10,261.04 L474.73,261.33 L475.36,261.62 L476.00,261.90 L476.66,262.20 L477.34,262.54 L478.03,262.88 L478.72,263.21 L479.40,263.51 L480.06,263.75 L480.70,263.92 L481.30,264.00 L481.74,263.99 L482.16,263.93 L482.56,263.83 L482.95,263.69 L483.34,263.54 L483.73,263.36 L484.11,263.18 L484.50,263.00 L484.92,262.77 L485.34,262.49 L485.75,262.18 L486.17,261.86 L486.58,261.56 L486.99,261.30 L487.40,261.11 L487.80,261.00 L488.14,260.98 L488.49,261.00 L488.83,261.06 L489.17,261.16 L489.51,261.28 L489.85,261.44 L490.18,261.61 L490.50,261.80 L490.90,262.08 L491.29,262.41 L491.67,262.78 L492.05,263.19 L492.42,263.62 L492.78,264.08 L493.14,264.54 L493.50,265.00 L493.89,265.55 L494.27,266.15 L494.63,266.78 L494.99,267.42 L495.35,268.07 L495.72,268.69 L496.10,269.27 L496.50,269.80 L496.85,270.24 L497.21,270.69 L497.58,271.13 L497.96,271.56 L498.34,271.93 L498.72,272.24 L499.11,272.47 L499.50,272.60 L499.84,272.62 L500.19,272.56 L500.55,272.44 L500.91,272.27 L501.26,272.07 L501.62,271.85 L501.96,271.62 L502.30,271.40 L502.65,271.14 L502.98,270.83 L503.29,270.50 L503.61,270.15 L503.93,269.81 L504.26,269.49 L504.61,269.21 L505.00,269.00 L505.43,268.84 L505.88,268.74 L506.34,268.68 L506.83,268.65 L507.33,268.63 L507.86,268.63 L508.41,268.62 L509.00,268.60 L509.96,268.56 L511.01,268.53 L512.13,268.50 L513.31,268.49 L514.51,268.49 L515.70,268.49 L516.88,268.49 L518.00,268.50 L519.05,268.50 L520.13,268.49 L521.22,268.48 L522.29,268.48 L523.33,268.50 L524.31,268.53 L525.20,268.60 L526.00,268.70 L526.43,268.78 L526.82,268.86 L527.18,268.96 L527.52,269.06 L527.85,269.18 L528.16,269.30 L528.48,269.45 L528.80,269.60 L529.11,269.78 L529.40,270.00 L529.68,270.23 L529.95,270.47 L530.23,270.71 L530.53,270.94 L530.85,271.14 L531.20,271.30 L531.68,271.45 L532.18,271.56 L532.70,271.64 L533.25,271.69 L533.84,271.72 L534.50,271.74 L535.21,271.76 L536.00,271.80 L538.10,271.88 L540.65,271.92 L543.54,271.94 L546.69,271.94 L550.00,271.92 L553.38,271.91 L556.75,271.90 L560.00,271.90 L563.60,271.91 L567.31,271.93 L571.09,271.94 L574.91,271.96 L578.74,271.97 L582.56,271.98 L586.32,271.99 L590.00,272.00 L593.38,272.00 L596.72,272.01 L600.02,272.01 L603.31,272.01 L606.57,272.00 L609.84,272.00 L613.11,272.00 L616.40,272.00" fill="none" stroke="#1a1a1a" stroke-width="1.5" stroke-linejoin="round"/>
<path d="M454.30,248.10 L454.51,248.22 L454.72,248.33 L454.93,248.44 L455.14,248.55 L455.35,248.67 L455.57,248.79 L455.78,248.94 L456.00,249.10 L456.30,249.36 L456.60,249.65 L456.90,249.97 L457.20,250.31 L457.51,250.66 L457.83,251.01 L458.16,251.36 L458.50,251.70 L458.90,252.07 L459.32,252.45 L459.74,252.83 L460.18,253.21 L460.63,253.59 L461.08,253.97 L461.54,254.34 L462.00,254.70 L462.48,255.06 L462.96,255.42 L463.45,255.78 L463.94,256.13 L464.44,256.47 L464.95,256.82 L465.47,257.16 L466.00,257.50 L466.59,257.87 L467.20,258.25 L467.82,258.62 L468.45,258.99 L469.09,259.35 L469.73,259.71 L470.37,260.06 L471.00,260.40 L471.62,260.72 L472.24,261.04 L472.86,261.35 L473.48,261.65 L474.10,261.94 L474.73,262.23 L475.36,262.52 L476.00,262.80 L476.66,263.10 L477.34,263.44 L478.03,263.78 L478.72,264.11 L479.40,264.41 L480.06,264.65 L480.70,264.82 L481.30,264.90 L481.74,264.89 L482.16,264.83 L482.56,264.73 L482.95,264.59 L483.34,264.44 L483.73,264.26 L484.11,264.08 L484.50,263.90 L484.92,263.67 L485.34,263.39 L485.75,263.08 L486.17,262.76 L486.58,262.46 L486.99,262.20 L487.40,262.01 L487.80,261.90 L488.14,261.88 L488.49,261.90 L488.83,261.96 L489.17,262.06 L489.51,262.18 L489.85,262.34 L490.18,262.51 L490.50,262.70 L490.90,262.98 L491.29,263.31 L491.67,263.68 L492.05,264.09 L492.42,264.52 L492.78,264.98 L493.14,265.44 L493.50,265.90 L493.89,266.45 L494.27,267.05 L494.63,267.68 L494.99,268.32 L495.35,268.97 L495.72,269.59 L496.10,270.17 L496.50,270.70 L496.85,271.14 L497.21,271.59 L497.58,272.03 L497.96,272.46 L498.34,272.83 L498.72,273.14 L499.11,273.37 L499.50,273.50 L499.84,273.52 L500.19,273.46 L500.55,273.34 L500.91,273.17 L501.26,272.97 L501.62,272.75 L501.96,272.52 L502.30,272.30 L502.65,272.04 L502.98,271.73 L503.29,271.40 L503.61,271.05 L503.93,270.71 L504.26,270.39 L504.61,270.11 L505.00,269.90 L505.43,269.74 L505.88,269.64 L506.34,269.58 L506.83,269.55 L507.33,269.53 L507.86,269.53 L508.41,269.52 L509.00,269.50 L509.96,269.46 L511.01,269.43 L512.13,269.40 L513.31,269.39 L514.51,269.39 L515.70,269.39 L516.88,269.39 L518.00,269.40 L519.05,269.40 L520.13,269.39 L521.22,269.38 L522.29,269.38 L523.33,269.40 L524.31,269.43 L525.20,269.50 L526.00,269.60 L526.43,269.68 L526.82,269.76 L527.18,269.86 L527.52,269.96 L527.85,270.08 L528.16,270.20 L528.48,270.35 L528.80,270.50 L529.11,270.68 L529.40,270.90 L529.68,271.13 L529.95,271.37 L530.23,271.61 L530.53,271.84 L530.85,272.04 L531.20,272.20 L531.68,272.35 L532.18,272.46 L532.70,272.54 L533.25,272.59 L533.84,272.62 L534.50,272.64 L535.21,272.66 L536.00,272.70 L538.10,272.78 L540.65,272.82 L543.54,272.84 L546.69,272.84 L550.00,272.82 L553.38,272.81 L556.75,272.80 L560.00,272.80 L563.60,272.81 L567.31,272.83 L571.09,272.84 L574.91,272.86 L578.74,272.87 L582.56,272.88 L586.32,272.89 L590.00,272.90 L593.38,272.90 L596.72,272.91 L600.02,272.91 L603.31,272.91 L606.57,272.90 L609.84,272.90 L613.11,272.90 L616.40,272.90" fill="none" stroke="#222" stroke-width="1.5" stroke-linejoin="round"/>
<path d="M344.60,279.00 L400.00,279.00 L435.20,279.10 L435.20,279.10 L435.29,278.23 L435.38,277.40 L435.46,276.58 L435.55,275.75 L435.64,274.90 L435.73,274.00 L435.82,273.04 L435.90,272.00 L436.03,270.14 L436.16,268.08 L436.29,265.85 L436.41,263.52 L436.53,261.11 L436.65,258.69 L436.78,256.31 L436.90,254.00 L437.02,251.73 L437.14,249.44 L437.26,247.14 L437.38,244.84 L437.50,242.56 L437.63,240.32 L437.76,238.13 L437.90,236.00 L438.02,234.17 L438.13,232.33 L438.24,230.50 L438.36,228.70 L438.48,226.98 L438.63,225.35 L438.80,223.85 L439.00,222.50 L439.14,221.70 L439.30,220.87 L439.46,220.05 L439.64,219.28 L439.81,218.61 L439.98,218.08 L440.15,217.73 L440.30,217.60 L440.42,217.68 L440.55,217.91 L440.67,218.26 L440.78,218.71 L440.90,219.23 L441.01,219.80 L441.11,220.40 L441.20,221.00 L441.37,222.48 L441.48,224.28 L441.57,226.32 L441.62,228.54 L441.66,230.89 L441.70,233.29 L441.74,235.68 L441.80,238.00 L441.88,240.61 L441.96,243.30 L442.03,246.04 L442.11,248.82 L442.18,251.63 L442.25,254.43 L442.33,257.23 L442.40,260.00 L442.47,262.75 L442.55,265.49 L442.62,268.23 L442.69,270.97 L442.76,273.71 L442.84,276.47 L442.92,279.23 L443.00,282.00 L443.09,284.87 L443.18,287.77 L443.28,290.68 L443.38,293.61 L443.48,296.51 L443.58,299.39 L443.69,302.23 L443.80,305.00 L443.90,307.52 L444.00,310.07 L444.11,312.61 L444.21,315.12 L444.33,317.55 L444.44,319.86 L444.57,322.03 L444.70,324.00 L444.79,325.20 L444.87,326.36 L444.95,327.48 L445.03,328.53 L445.13,329.52 L445.23,330.44 L445.36,331.27 L445.50,332.00 L445.59,332.38 L445.69,332.76 L445.79,333.13 L445.89,333.47 L446.00,333.77 L446.10,334.00 L446.21,334.15 L446.30,334.20 L446.40,334.13 L446.49,333.95 L446.58,333.66 L446.67,333.30 L446.76,332.89 L446.84,332.44 L446.92,331.97 L447.00,331.50 L447.14,330.46 L447.26,329.22 L447.36,327.83 L447.45,326.32 L447.54,324.75 L447.62,323.14 L447.70,321.55 L447.80,320.00 L447.91,318.32 L448.03,316.60 L448.14,314.85 L448.26,313.09 L448.37,311.31 L448.48,309.53 L448.59,307.76 L448.70,306.00 L448.80,304.25 L448.91,302.51 L449.00,300.77 L449.10,299.03 L449.20,297.29 L449.30,295.53 L449.40,293.77 L449.50,292.00 L449.61,290.14 L449.71,288.25 L449.82,286.34 L449.92,284.43 L450.03,282.52 L450.15,280.64 L450.27,278.80 L450.40,277.00 L450.52,275.42 L450.64,273.85 L450.76,272.29 L450.88,270.76 L451.02,269.26 L451.16,267.79 L451.32,266.37 L451.50,265.00 L451.65,263.89 L451.80,262.79 L451.95,261.71 L452.12,260.65 L452.30,259.64 L452.50,258.69 L452.73,257.80 L453.00,257.00 L453.20,256.48 L453.40,255.96 L453.62,255.45 L453.85,254.98 L454.09,254.56 L454.35,254.21 L454.62,253.95 L454.90,253.80 L455.14,253.77 L455.39,253.80 L455.65,253.89 L455.92,254.03 L456.19,254.20 L456.46,254.39 L456.73,254.59 L457.00,254.80 L457.37,255.13 L457.72,255.52 L458.07,255.96 L458.43,256.44 L458.79,256.94 L459.17,257.44 L459.57,257.93 L460.00,258.40 L460.55,258.93 L461.14,259.46 L461.75,259.99 L462.40,260.52 L463.05,261.05 L463.71,261.57 L464.36,262.09 L465.00,262.60 L465.62,263.09 L466.23,263.59 L466.83,264.08 L467.45,264.56 L468.07,265.04 L468.69,265.51 L469.34,265.96 L470.00,266.40 L470.71,266.84 L471.44,267.27 L472.19,267.69 L472.94,268.10 L473.71,268.49 L474.47,268.88 L475.24,269.25 L476.00,269.60 L476.74,269.95 L477.50,270.33 L478.27,270.70 L479.03,271.06 L479.78,271.38 L480.52,271.64 L481.23,271.82 L481.90,271.90 L482.39,271.88 L482.87,271.81 L483.33,271.69 L483.78,271.53 L484.22,271.35 L484.65,271.16 L485.08,270.97 L485.50,270.80 L485.89,270.62 L486.27,270.41 L486.65,270.19 L487.02,269.96 L487.39,269.75 L487.76,269.57 L488.13,269.45 L488.50,269.40 L488.88,269.41 L489.25,269.48 L489.64,269.58 L490.02,269.72 L490.40,269.90 L490.77,270.11 L491.14,270.34 L491.50,270.60 L491.96,271.00 L492.41,271.47 L492.85,272.01 L493.29,272.59 L493.71,273.20 L494.14,273.82 L494.57,274.42 L495.00,275.00 L495.44,275.59 L495.87,276.21 L496.30,276.85 L496.73,277.49 L497.16,278.10 L497.60,278.67 L498.05,279.17 L498.50,279.60 L498.84,279.88 L499.18,280.14 L499.53,280.38 L499.88,280.59 L500.23,280.76 L500.59,280.90 L500.94,280.98 L501.30,281.00 L501.69,280.94 L502.09,280.79 L502.49,280.58 L502.90,280.32 L503.30,280.03 L503.70,279.73 L504.10,279.45 L504.50,279.20 L504.88,278.97 L505.25,278.73 L505.61,278.48 L505.98,278.23 L506.35,278.00 L506.72,277.77 L507.10,277.57 L507.50,277.40 L507.90,277.25 L508.30,277.13 L508.70,277.03 L509.12,276.94 L509.54,276.87 L510.00,276.81 L510.48,276.75 L511.00,276.70 L511.92,276.64 L512.94,276.61 L514.05,276.61 L515.21,276.63 L516.41,276.66 L517.62,276.71 L518.82,276.76 L520.00,276.80 L521.23,276.85 L522.46,276.90 L523.71,276.96 L524.97,277.03 L526.23,277.11 L527.49,277.20 L528.75,277.29 L530.00,277.40 L531.24,277.53 L532.45,277.67 L533.66,277.83 L534.87,278.00 L536.10,278.17 L537.36,278.33 L538.65,278.47 L540.00,278.60 L541.70,278.73 L543.44,278.85 L545.23,278.95 L547.07,279.04 L548.96,279.11 L550.91,279.18 L552.92,279.24 L555.00,279.30 L557.84,279.36 L560.87,279.40 L564.03,279.42 L567.28,279.44 L570.55,279.44 L573.80,279.43 L576.96,279.42 L580.00,279.40 L582.62,279.38 L585.20,279.35 L587.75,279.31 L590.26,279.26 L592.74,279.21 L595.19,279.17 L597.61,279.13 L600.00,279.10 L602.13,279.08 L604.21,279.06 L606.27,279.05 L608.30,279.04 L610.32,279.03 L612.34,279.02 L614.36,279.01 L616.40,279.00" fill="none" stroke="#f0141c" stroke-width="1.5" stroke-linejoin="round"/>
<path d="M451.50,265.00 L451.68,263.97 L451.84,262.91 L451.99,261.83 L452.15,260.76 L452.32,259.71 L452.52,258.73 L452.74,257.81 L453.00,257.00 L453.20,256.48 L453.40,255.96 L453.62,255.45 L453.85,254.98 L454.09,254.56 L454.35,254.21 L454.62,253.95 L454.90,253.80 L455.14,253.77 L455.39,253.80 L455.65,253.89 L455.92,254.03 L456.19,254.20 L456.46,254.39 L456.73,254.59 L457.00,254.80 L457.37,255.13 L457.72,255.52 L458.07,255.96 L458.43,256.44 L458.79,256.94 L459.17,257.44 L459.57,257.93 L460.00,258.40 L460.55,258.93 L461.14,259.46 L461.75,259.99 L462.40,260.52 L463.05,261.05 L463.71,261.57 L464.36,262.09 L465.00,262.60 L465.62,263.09 L466.23,263.59 L466.83,264.08 L467.45,264.56 L468.07,265.04 L468.69,265.51 L469.34,265.96 L470.00,266.40 L470.71,266.84 L471.44,267.27 L472.19,267.69 L472.94,268.10 L473.71,268.49 L474.47,268.88 L475.24,269.25 L476.00,269.60 L476.74,269.95 L477.50,270.33 L478.27,270.70 L479.03,271.06 L479.78,271.38 L480.52,271.64 L481.23,271.82 L481.90,271.90 L482.39,271.88 L482.87,271.81 L483.33,271.69 L483.78,271.53 L484.22,271.35 L484.65,271.16 L485.08,270.97 L485.50,270.80 L485.89,270.62 L486.27,270.41 L486.65,270.19 L487.02,269.96 L487.39,269.75 L487.76,269.57 L488.13,269.45 L488.50,269.40 L488.88,269.41 L489.25,269.48 L489.64,269.58 L490.02,269.72 L490.40,269.90 L490.77,270.11 L491.14,270.34 L491.50,270.60 L491.96,271.00 L492.41,271.47 L492.85,272.01 L493.29,272.59 L493.71,273.20 L494.14,273.82 L494.57,274.42 L495.00,275.00 L495.44,275.59 L495.87,276.21 L496.30,276.85 L496.73,277.49 L497.16,278.10 L497.60,278.67 L498.05,279.17 L498.50,279.60 L498.84,279.88 L499.18,280.14 L499.53,280.38 L499.88,280.59 L500.23,280.76 L500.59,280.90 L500.94,280.98 L501.30,281.00 L501.69,280.94 L502.09,280.79 L502.49,280.58 L502.90,280.32 L503.30,280.03 L503.70,279.73 L504.10,279.45 L504.50,279.20 L504.88,278.97 L505.25,278.73 L505.61,278.48 L505.98,278.23 L506.35,278.00 L506.72,277.77 L507.10,277.57 L507.50,277.40 L507.90,277.25 L508.30,277.13 L508.70,277.03 L509.12,276.94 L509.54,276.87 L510.00,276.81 L510.48,276.75 L511.00,276.70 L511.92,276.64 L512.94,276.61 L514.05,276.61 L515.21,276.63 L516.41,276.66 L517.62,276.71 L518.82,276.76 L520.00,276.80 L521.23,276.85 L522.46,276.90 L523.71,276.96 L524.97,277.03 L526.23,277.11 L527.49,277.20 L528.75,277.29 L530.00,277.40 L531.24,277.53 L532.45,277.67 L533.66,277.83 L534.87,278.00 L536.10,278.17 L537.36,278.33 L538.65,278.47 L540.00,278.60 L541.70,278.73 L543.44,278.85 L545.23,278.95 L547.07,279.04 L548.96,279.11 L550.91,279.18 L552.92,279.24 L555.00,279.30 L557.84,279.36 L560.87,279.40 L564.03,279.42 L567.28,279.44 L570.55,279.44 L573.80,279.43 L576.96,279.42 L580.00,279.40 L582.62,279.38 L585.20,279.35 L587.75,279.31 L590.26,279.26 L592.74,279.21 L595.19,279.17 L597.61,279.13 L600.00,279.10 L602.13,279.08 L604.21,279.06 L606.27,279.05 L608.30,279.04 L610.32,279.03 L612.34,279.02 L614.36,279.01 L616.40,279.00" fill="none" stroke="#f0141c" stroke-width="2.1" stroke-linejoin="round"/>
<path d="M344.60,279.00 L400.00,279.00 L435.20,279.10" fill="none" stroke="#f0141c" stroke-width="1.9"/>
<path d="M344.60,278.30 L355.69,278.30 L367.36,278.30 L379.28,278.29 L391.07,278.29 L402.39,278.29 L412.89,278.29 L422.21,278.29 L430.00,278.30 L433.25,278.32 L436.37,278.35 L439.31,278.38 L442.02,278.42 L444.44,278.44 L446.53,278.44 L448.24,278.42 L449.50,278.35 L449.75,278.33 L449.97,278.31 L450.15,278.30 L450.31,278.28 L450.46,278.26 L450.60,278.22 L450.74,278.17 L450.90,278.10 L451.09,277.99 L451.27,277.87 L451.45,277.72 L451.62,277.56 L451.79,277.39 L451.96,277.20 L452.13,277.00 L452.30,276.80 L452.52,276.51 L452.73,276.17 L452.94,275.81 L453.15,275.44 L453.35,275.06 L453.56,274.69 L453.78,274.33 L454.00,274.00 L454.20,273.72 L454.41,273.44 L454.61,273.16 L454.82,272.89 L455.03,272.64 L455.25,272.40 L455.47,272.19 L455.70,272.00 L455.89,271.86 L456.08,271.74 L456.28,271.63 L456.47,271.53 L456.67,271.44 L456.88,271.38 L457.09,271.33 L457.30,271.30 L457.53,271.30 L457.77,271.32 L458.01,271.37 L458.25,271.43 L458.50,271.52 L458.76,271.61 L459.02,271.70 L459.30,271.80 L459.71,271.95 L460.14,272.13 L460.58,272.34 L461.04,272.56 L461.52,272.78 L462.00,273.00 L462.50,273.21 L463.00,273.40 L463.58,273.60 L464.18,273.79 L464.79,273.97 L465.42,274.15 L466.05,274.32 L466.69,274.48 L467.34,274.64 L468.00,274.80 L468.72,274.97 L469.45,275.13 L470.18,275.29 L470.93,275.44 L471.69,275.58 L472.45,275.73 L473.22,275.86 L474.00,276.00 L474.87,276.15 L475.79,276.31 L476.74,276.46 L477.68,276.61 L478.61,276.75 L479.48,276.86 L480.29,276.95 L481.00,277.00 L481.37,277.02 L481.72,277.04 L482.04,277.06 L482.34,277.07 L482.63,277.06 L482.92,277.03 L483.21,276.98 L483.50,276.90 L483.82,276.77 L484.13,276.59 L484.44,276.38 L484.74,276.15 L485.05,275.91 L485.36,275.66 L485.67,275.42 L486.00,275.20 L486.38,274.94 L486.77,274.66 L487.17,274.36 L487.58,274.07 L487.99,273.80 L488.40,273.57 L488.80,273.40 L489.20,273.30 L489.53,273.28 L489.86,273.29 L490.20,273.35 L490.52,273.43 L490.85,273.54 L491.17,273.68 L491.49,273.83 L491.80,274.00 L492.16,274.23 L492.50,274.50 L492.84,274.81 L493.17,275.15 L493.50,275.51 L493.83,275.87 L494.16,276.24 L494.50,276.60 L494.87,277.00 L495.25,277.43 L495.62,277.87 L495.99,278.32 L496.37,278.76 L496.75,279.20 L497.12,279.61 L497.50,280.00 L497.84,280.33 L498.18,280.67 L498.52,281.01 L498.86,281.33 L499.20,281.63 L499.54,281.89 L499.87,282.12 L500.20,282.30 L500.43,282.40 L500.65,282.48 L500.88,282.55 L501.10,282.60 L501.32,282.62 L501.54,282.64 L501.77,282.63 L502.00,282.60 L502.30,282.53 L502.60,282.42 L502.91,282.27 L503.22,282.09 L503.54,281.90 L503.86,281.70 L504.18,281.50 L504.50,281.30 L504.86,281.07 L505.23,280.82 L505.59,280.55 L505.96,280.27 L506.33,280.00 L506.71,279.74 L507.10,279.51 L507.50,279.30 L507.90,279.12 L508.30,278.96 L508.70,278.82 L509.11,278.70 L509.54,278.58 L509.99,278.48 L510.48,278.39 L511.00,278.30 L511.89,278.19 L512.84,278.11 L513.86,278.06 L514.95,278.04 L516.11,278.02 L517.33,278.02 L518.63,278.01 L520.00,278.00 L522.50,277.98 L525.27,277.97 L528.27,277.98 L531.46,278.00 L534.77,278.03 L538.16,278.06 L541.59,278.08 L545.00,278.10 L549.09,278.11 L553.32,278.13 L557.66,278.14 L562.09,278.15 L566.57,278.16 L571.06,278.18 L575.55,278.19 L580.00,278.20 L584.52,278.21 L589.05,278.23 L593.60,278.24 L598.16,278.25 L602.72,278.26 L607.28,278.28 L611.85,278.29 L616.40,278.30" fill="none" stroke="#2020ff" stroke-width="2.0" stroke-linejoin="round"/>
<rect x="494.40" y="200.20" width="121.10" height="40.50" fill="#fff" stroke="#8a8a8a" stroke-width="1"/>
<path d="M495.70,207.40 H503.90" stroke="#000" stroke-width="1.6"/>
<text x="504.90" y="212.00" font-size="11.85" text-anchor="start" font-weight="normal" >Conventional Amp</text>
<path d="M495.70,220.50 H503.90" stroke="#e8141c" stroke-width="1.6"/>
<text x="504.90" y="225.10" font-size="11.85" text-anchor="start" font-weight="normal" >Series Amps w/ Diodes</text>
<path d="M495.70,233.50 H503.90" stroke="#1515f5" stroke-width="1.6"/>
<text x="504.90" y="238.10" font-size="11.85" text-anchor="start" font-weight="normal" >DBS-ECAP Instrum.</text>
<text x="1.00" y="11.70" font-size="13" text-anchor="start" font-weight="normal" >(a)</text>
<text x="315.00" y="11.70" font-size="13" text-anchor="start" font-weight="normal" >(b)</text>
<text x="1.00" y="192.80" font-size="13" text-anchor="start" font-weight="normal" >(c)</text>
<text x="315.00" y="192.80" font-size="13" text-anchor="start" font-weight="normal" >(d)</text>
<text x="31.65" y="14.60" font-size="12" text-anchor="end" font-weight="normal" >30</text>
<text x="31.65" y="41.23" font-size="12" text-anchor="end" font-weight="normal" >20</text>
<text x="31.65" y="67.87" font-size="12" text-anchor="end" font-weight="normal" >10</text>
<text x="31.65" y="94.50" font-size="12" text-anchor="end" font-weight="normal" >0</text>
<text x="29.25" y="121.13" font-size="12" text-anchor="end" font-weight="normal" >-10</text>
<text x="29.25" y="147.77" font-size="12" text-anchor="end" font-weight="normal" >-20</text>
<text x="29.25" y="174.40" font-size="12" text-anchor="end" font-weight="normal" >-30</text>
<text x="343.30" y="14.60" font-size="12" text-anchor="end" font-weight="normal" >3</text>
<text x="343.30" y="41.23" font-size="12" text-anchor="end" font-weight="normal" >2</text>
<text x="343.30" y="67.87" font-size="12" text-anchor="end" font-weight="normal" >1</text>
<text x="343.30" y="94.50" font-size="12" text-anchor="end" font-weight="normal" >0</text>
<text x="340.90" y="121.13" font-size="12" text-anchor="end" font-weight="normal" >-1</text>
<text x="340.90" y="147.77" font-size="12" text-anchor="end" font-weight="normal" >-2</text>
<text x="340.90" y="174.40" font-size="12" text-anchor="end" font-weight="normal" >-3</text>
<text x="31.65" y="203.80" font-size="12" text-anchor="end" font-weight="normal" >1.5</text>
<text x="31.65" y="230.38" font-size="12" text-anchor="end" font-weight="normal" >1</text>
<text x="31.65" y="256.95" font-size="12" text-anchor="end" font-weight="normal" >0.5</text>
<text x="31.65" y="283.52" font-size="12" text-anchor="end" font-weight="normal" >0</text>
<text x="29.25" y="310.10" font-size="12" text-anchor="end" font-weight="normal" >-0.5</text>
<text x="29.25" y="336.68" font-size="12" text-anchor="end" font-weight="normal" >-1</text>
<text x="29.25" y="363.25" font-size="12" text-anchor="end" font-weight="normal" >-1.5</text>
<text x="343.30" y="203.80" font-size="12" text-anchor="end" font-weight="normal" >1.5</text>
<text x="343.30" y="230.38" font-size="12" text-anchor="end" font-weight="normal" >1</text>
<text x="343.30" y="256.95" font-size="12" text-anchor="end" font-weight="normal" >0.5</text>
<text x="343.30" y="283.52" font-size="12" text-anchor="end" font-weight="normal" >0</text>
<text x="340.90" y="310.10" font-size="12" text-anchor="end" font-weight="normal" >-0.5</text>
<text x="340.90" y="336.68" font-size="12" text-anchor="end" font-weight="normal" >-1</text>
<text x="340.90" y="363.25" font-size="12" text-anchor="end" font-weight="normal" >-1.5</text>
<text x="28.15" y="369.90" font-size="12" text-anchor="middle" font-weight="normal" >-1</text>
<text x="73.43" y="369.90" font-size="12" text-anchor="middle" font-weight="normal" >-0.5</text>
<text x="123.50" y="369.90" font-size="12" text-anchor="middle" font-weight="normal" >0</text>
<text x="168.78" y="369.90" font-size="12" text-anchor="middle" font-weight="normal" >0.5</text>
<text x="214.05" y="369.90" font-size="12" text-anchor="middle" font-weight="normal" >1</text>
<text x="259.33" y="369.90" font-size="12" text-anchor="middle" font-weight="normal" >1.5</text>
<text x="304.60" y="369.90" font-size="12" text-anchor="middle" font-weight="normal" >2</text>
<text x="339.80" y="369.90" font-size="12" text-anchor="middle" font-weight="normal" >-1</text>
<text x="385.10" y="369.90" font-size="12" text-anchor="middle" font-weight="normal" >-0.5</text>
<text x="435.20" y="369.90" font-size="12" text-anchor="middle" font-weight="normal" >0</text>
<text x="480.50" y="369.90" font-size="12" text-anchor="middle" font-weight="normal" >0.5</text>
<text x="525.80" y="369.90" font-size="12" text-anchor="middle" font-weight="normal" >1</text>
<text x="571.10" y="369.90" font-size="12" text-anchor="middle" font-weight="normal" >1.5</text>
<text x="616.40" y="369.90" font-size="12" text-anchor="middle" font-weight="normal" >2</text>
<text x="142.20" y="379.60" font-size="13.6" text-anchor="start" font-weight="normal" textLength="53.2" lengthAdjust="spacingAndGlyphs">Time (ms)</text>
<text x="454.40" y="379.60" font-size="13.6" text-anchor="start" font-weight="normal" textLength="53.2" lengthAdjust="spacingAndGlyphs">Time (ms)</text>
<text x="0" y="0" font-size="12.6" font-weight="bold" style="stroke-width:0.1px" text-anchor="middle" transform="translate(10.3,89.70) rotate(-90)">mV</text>
<text x="0" y="0" font-size="12.6" font-weight="bold" style="stroke-width:0.1px" text-anchor="middle" transform="translate(10.3,278.60) rotate(-90)">mV</text>
</svg>
</body></html>
